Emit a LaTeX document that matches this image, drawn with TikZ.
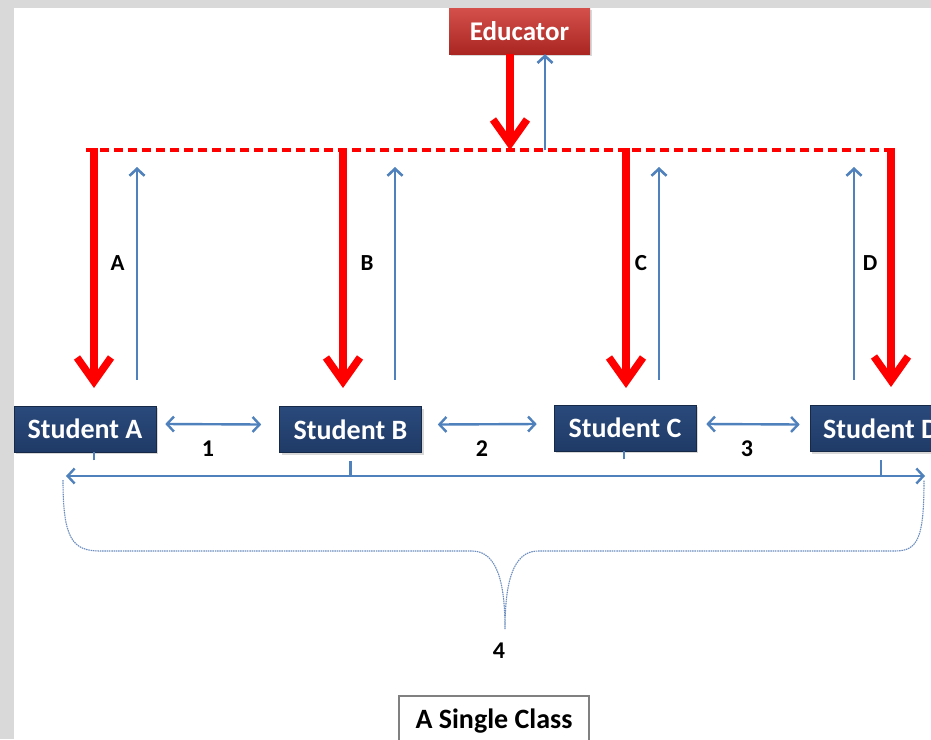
\documentclass[tikz,border=0pt]{standalone}
\usepackage{fontspec}
\setmainfont{Carlito}
\usetikzlibrary{arrows.meta,shadows,calc}
\definecolor{bggray}{HTML}{D9D9D9}
\definecolor{myblue}{HTML}{4F81BD}
\definecolor{navy}{HTML}{1F3A66}
\definecolor{navytop}{HTML}{2A4A7C}
\definecolor{edutop}{HTML}{D4504B}
\definecolor{edubot}{HTML}{A92622}
\definecolor{bracecol}{HTML}{6A8CBF}
\begin{document}
\begin{tikzpicture}[x=1pt,y=-1pt,
  redarrow/.style={draw=red, line width=7.5pt, -{Straight Barb[length=24pt,width=34pt]}},
  bluearrow/.style={draw=myblue, line width=2.6pt, -{Straight Barb[length=7pt,width=15pt]}},
  bluedouble/.style={draw=myblue, line width=2.4pt, {Straight Barb[length=7pt,width=15pt]}-{Straight Barb[length=7pt,width=15pt]}},
  blueline/.style={draw=myblue, line width=2.2pt},
  dashline/.style={draw=red, line width=3.5pt, dash pattern=on 9pt off 5pt},
  student/.style={top color=navytop, bottom color=navy, draw=navy!70!black, line width=0.6pt, text=white,
    font=\bfseries\fontsize{28}{30}\selectfont, minimum width=142pt, minimum height=46pt, inner sep=0pt,
    drop shadow={shadow xshift=2pt,shadow yshift=-2pt,opacity=0.3}},
  edubox/.style={top color=edutop, bottom color=edubot, text=white,
    font=\bfseries\fontsize{27}{30}\selectfont, minimum width=141pt, minimum height=46pt, inner sep=0pt,
    drop shadow={shadow xshift=2pt,shadow yshift=-2pt,opacity=0.3}},
  lbl/.style={font=\bfseries\fontsize{23}{26}\selectfont, text=black, inner sep=0pt},
  numlbl/.style={font=\bfseries\fontsize{24}{26}\selectfont, text=black, inner sep=0pt},
  classbox/.style={draw=gray, line width=1.2pt, fill=white, font=\bfseries\fontsize{28}{30}\selectfont,
    minimum width=190pt, minimum height=50pt, inner sep=0pt}
]
\useasboundingbox (0,0) rectangle (931,739);
\clip (0,0) rectangle (931,739);
\fill[bggray] (0,0) rectangle (931,739);
\fill[white] (14,8) rectangle (931,739);

% nodes
\node[edubox] (edu) at (519.5,31) {Educator};
\node[student] (sa) at (85,429) {Student A};
\node[student] (sb) at (350.5,429.5) {Student B};
\node[student] (sc) at (625,428) {Student C};
\node[student] (sd) at (881,428.5) {Student D};
\node[classbox] (cls) at (494,721) {A Single Class};

% coordinates
\coordinate (dl) at (86,150);
\coordinate (dr) at (893,150);
\coordinate (em) at (510,150);
\coordinate (eb) at (545,150);
\coordinate (ta) at (94,148);
\coordinate (tb) at (343,148);
\coordinate (tc) at (626,148);
\coordinate (td) at (891,148);
\coordinate (ha) at (94,388);
\coordinate (hb) at (343,388);
\coordinate (hc) at (626,388);
\coordinate (hd) at (891,387);
\coordinate (ua) at (137,380);
\coordinate (ub) at (395,380);
\coordinate (uc) at (659,380);
\coordinate (ud) at (854,380);
\coordinate (va) at (137,167);
\coordinate (vb) at (395,167);
\coordinate (vc) at (659,167);
\coordinate (vd) at (854,167);
\coordinate (L) at (66,476);
\coordinate (R) at (925,476);

% educator links
\draw[dashline] (dl) -- (dr);
\draw[redarrow] (edu.south -| em) -- (em);
\draw[bluearrow] (eb) -- (edu.south -| eb);

% down red arrows
\draw[redarrow] (ta) -- (ha);
\draw[redarrow] (tb) -- (hb);
\draw[redarrow] (tc) -- (hc);
\draw[redarrow] (td) -- (hd);

% up blue arrows
\draw[bluearrow] (ua) -- (va);
\draw[bluearrow] (ub) -- (vb);
\draw[bluearrow] (uc) -- (vc);
\draw[bluearrow] (ud) -- (vd);

% labels
\node[lbl] (la) at (117.5,263) {A};
\node[lbl] (lb) at (367,263) {B};
\node[lbl] (lc) at (641,263) {C};
\node[lbl] (ld) at (870,263) {D};

% student-to-student
\draw[bluedouble] ($(sa.east)+(9,-5)$) -- ($(sb.west)+(-18,-5)$);
\draw[bluedouble] ($(sb.east)+(16,-5)$) -- ($(sc.west)+(-17,-4)$);
\draw[bluedouble] ($(sc.east)+(10,-4)$) -- ($(sd.west)+(-10,-4)$);
\node[numlbl] (n1) at (208,449) {1};
\node[numlbl] (n2) at (482,449) {2};
\node[numlbl] (n3) at (747,449) {3};

% whole class line
\draw[bluedouble] (L) -- (R);
\draw[blueline] ($(sa.south)+(9,8)$) -- ($(sa.south)+(9,0)$ |- L);
\draw[blueline] ($(sb.south)+(0,8)$) -- (sb.south |- L);
\draw[blueline] ($(sc.south)+(-1,8)$) -- ($(sc.south)+(-1,0)$ |- L);
\draw[blueline] ($(sd.south)+(0,8)$) -- (sd.south |- L);

% brace
\draw[bracecol, line width=1.1pt, dash pattern=on 1.5pt off 0.8pt]
  (63,480) .. controls (63,538) and (72,551) .. (100,551)
  -- (472,551) .. controls (498,551) and (505,585) .. (505,629)
  .. controls (505,585) and (512,551) .. (538,551)
  -- (895,551) .. controls (918,551) and (924,538) .. (924,480);
\node[numlbl] (n4) at (499,651) {4};
\end{tikzpicture}
\end{document}
